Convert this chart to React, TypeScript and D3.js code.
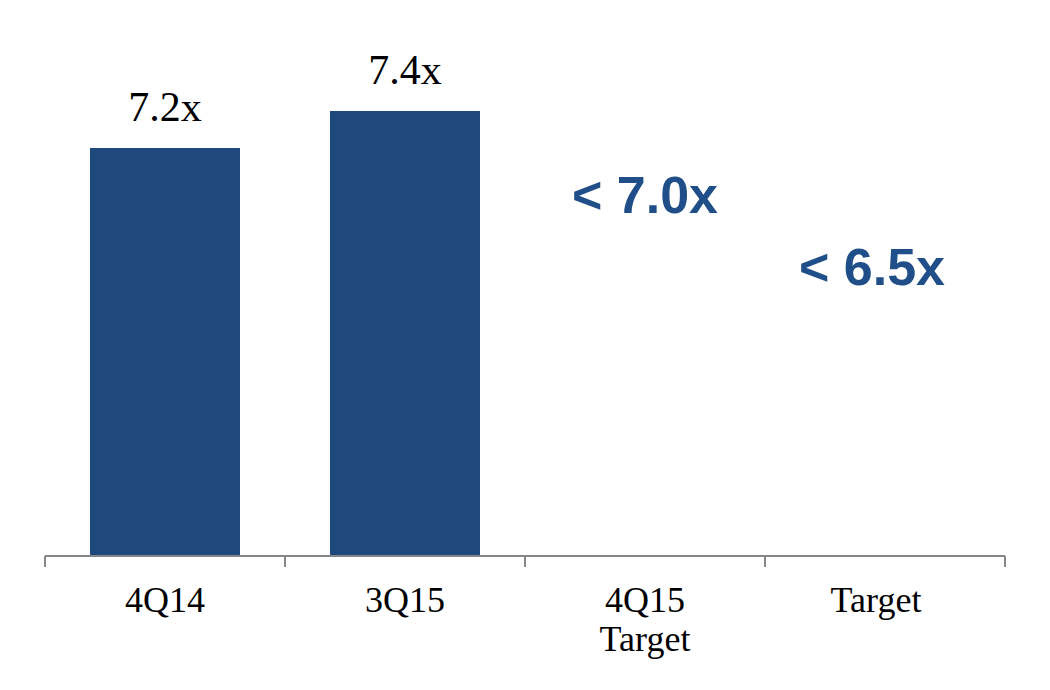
import * as d3 from 'd3';

const categories = ['4Q14', '3Q15', '4Q15\nTarget', 'Target'];
const barValues = [7.2, 7.4, null, null];
const barLabels = ['7.2x', '7.4x', '', ''];
const targetValues = [null, null, 7.0, 6.5];
const targetLabels = ['', '', '< 7.0x', '< 6.5x'];

const W = 1050;
const H = 690;
const BAR_COLOR = '#1F497D';
const TEXT_BLUE = '#1F4E89';
const AXIS_Y = 556;

export default function App() {
  const x = d3.scaleBand<string>()
    .domain(categories)
    .range([45, 1005])
    .paddingInner(0.375)
    .paddingOuter(0.1875);

  // value axis is not drawn; it starts at 5.0x
  const y = d3.scaleLinear().domain([5, 8]).range([555, 0]);

  const step = x.step();
  const tickXs = d3.range(categories.length + 1).map(i => 45 + i * step);

  // small hand nudges so the labels sit where the slide had them
  const targetNudge = [
    { dx: 0, dy: 28 },
    { dx: 0, dy: 28 },
    { dx: 0, dy: 28 },
    { dx: -13, dy: 7 },
  ];
  const catNudge = [0, 0, 0, -9];

  return (
    <svg width={W} height={H} style={{ position: 'absolute', left: 0, top: 0, background: '#fff' }}>
      {/* bars */}
      {categories.map((c, i) => {
        const v = barValues[i];
        if (v == null) return null;
        const bx = x(c)!;
        return (
          <g key={c}>
            <rect x={bx} y={y(v)} width={x.bandwidth()} height={555 - y(v)} fill={BAR_COLOR} />
            <text
              x={bx + x.bandwidth() / 2}
              y={y(v) - 27}
              textAnchor="middle"
              fontFamily="'Liberation Serif', 'Times New Roman', serif"
              fontSize={42}
              fill="#000"
            >
              {barLabels[i]}
            </text>
          </g>
        );
      })}

      {/* target labels */}
      {categories.map((c, i) => {
        const v = targetValues[i];
        if (v == null) return null;
        return (
          <text
            key={'t' + c}
            x={x(c)! + x.bandwidth() / 2 + targetNudge[i].dx}
            y={y(v) + targetNudge[i].dy}
            textAnchor="middle"
            fontFamily="'Liberation Sans', Arial, sans-serif"
            fontWeight="bold"
            fontSize={52}
            fill={TEXT_BLUE}
          >
            {targetLabels[i]}
          </text>
        );
      })}

      {/* category axis */}
      <line x1={45} x2={1005} y1={AXIS_Y} y2={AXIS_Y} stroke="#868686" strokeWidth={2} />
      {tickXs.map(tx => (
        <line key={tx} x1={tx} x2={tx} y1={AXIS_Y} y2={567} stroke="#868686" strokeWidth={2} />
      ))}
      {categories.map((c, i) => {
        const cx = x(c)! + x.bandwidth() / 2 + catNudge[i];
        return (
          <text
            key={'l' + c}
            x={cx}
            y={612}
            textAnchor="middle"
            fontFamily="'Liberation Serif', 'Times New Roman', serif"
            fontSize={36}
            fill="#000"
          >
            {c.split('\n').map((line, j) => (
              <tspan key={j} x={cx} dy={j === 0 ? 0 : 39}>{line}</tspan>
            ))}
          </text>
        );
      })}
    </svg>
  );
}
